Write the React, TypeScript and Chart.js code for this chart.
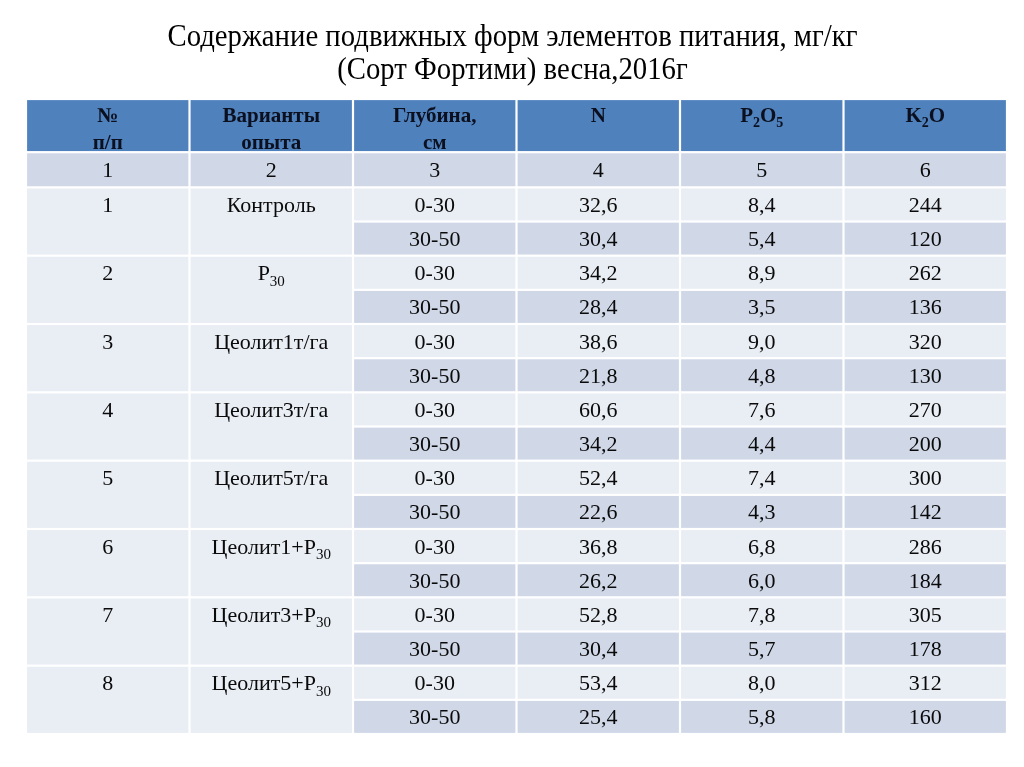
import React, { useEffect, useRef } from "react";
import { Chart, registerables } from "chart.js";

Chart.register(...registerables);

// ---- data ----
const titleLines = [
  "Содержание подвижных форм элементов питания, мг/кг",
  "(Сорт Фортими) весна,2016г",
];
const columnHeaders = [
  ["№", "п/п"],
  ["Варианты", "опыта"],
  ["Глубина,", "см"],
  ["N"],
  ["P_2O_5"],
  ["K_2O"],
];
const columnNumbers = ["1", "2", "3", "4", "5", "6"];
const variantNumbers = ["1", "2", "3", "4", "5", "6", "7", "8"];
const variants = [
  "Контроль",
  "Р_30",
  "Цеолит1т/га",
  "Цеолит3т/га",
  "Цеолит5т/га",
  "Цеолит1+Р_30",
  "Цеолит3+Р_30",
  "Цеолит5+Р_30",
];
const depths = ["0-30", "30-50"];
const nValues = [32.6, 30.4, 34.2, 28.4, 38.6, 21.8, 60.6, 34.2, 52.4, 22.6, 36.8, 26.2, 52.8, 30.4, 53.4, 25.4];
const p2o5Values = [8.4, 5.4, 8.9, 3.5, 9.0, 4.8, 7.6, 4.4, 7.4, 4.3, 6.8, 6.0, 7.8, 5.7, 8.0, 5.8];
const k2oValues = [244, 120, 262, 136, 320, 130, 270, 200, 300, 142, 286, 184, 305, 178, 312, 160];

// ---- layout constants (scale units) ----
const HEADER_H = 1.556;
const NUMROW_H = 1.03;
const DATA_START = HEADER_H + NUMROW_H;
const TOTAL_ROWS = DATA_START + nValues.length;

const COLORS = {
  header: "#4F81BD",
  dark: "#D0D8E8",
  light: "#E9EDF4",
  text: "#0a0a0a",
  headerText: "#0b0f1e",
};

const BODY_SIZE = 22;
const HEAD_SIZE = 21;

const fmt1 = (v: number) => v.toFixed(1).replace(".", ",");

function drawRich(
  ctx: CanvasRenderingContext2D,
  text: string,
  cx: number,
  baseline: number,
  size: number,
  bold: boolean,
  color: string
) {
  const segs: { t: string; sub: boolean }[] = [];
  const re = /_(\d+)/g;
  let last = 0;
  let m: RegExpExecArray | null;
  while ((m = re.exec(text))) {
    if (m.index > last) segs.push({ t: text.slice(last, m.index), sub: false });
    segs.push({ t: m[1], sub: true });
    last = m.index + m[0].length;
  }
  if (last < text.length) segs.push({ t: text.slice(last), sub: false });
  const fontFor = (sub: boolean) =>
    `${bold ? "bold " : ""}${sub ? Math.round(size * 0.66) : size}px "Liberation Serif", "Times New Roman", serif`;
  let total = 0;
  const widths = segs.map((s) => {
    ctx.font = fontFor(s.sub);
    const ww = ctx.measureText(s.t).width;
    total += ww;
    return ww;
  });
  let x = cx - total / 2;
  ctx.fillStyle = color;
  ctx.textAlign = "left";
  ctx.textBaseline = "alphabetic";
  segs.forEach((s, i) => {
    ctx.font = fontFor(s.sub);
    ctx.fillText(s.t, x, baseline + (s.sub ? size * 0.25 : 0));
    x += widths[i];
  });
}

const tablePlugin = {
  id: "tableCells",
  afterDraw(chart: any) {
    const ctx: CanvasRenderingContext2D = chart.ctx;
    const xs = chart.scales.x;
    const ys = chart.scales.y;
    const X = (v: number) => xs.getPixelForValue(v);
    const Y = (v: number) => ys.getPixelForValue(v);
    const gap = 1.1;
    ctx.save();
    const cell = (c0: number, c1: number, r0: number, r1: number, color: string) => {
      const x0 = X(c0), x1 = X(c1), y0 = Y(r0), y1 = Y(r1);
      ctx.fillStyle = color;
      ctx.fillRect(
        Math.min(x0, x1) + gap,
        Math.min(y0, y1) + gap,
        Math.abs(x1 - x0) - 2 * gap,
        Math.abs(y1 - y0) - 2 * gap
      );
    };
    const cx = (c: number) => (X(c) + X(c + 1)) / 2;

    // title
    ctx.fillStyle = "#000";
    ctx.textAlign = "center";
    ctx.textBaseline = "alphabetic";
    const tSize = 32;
    ctx.font = `${tSize}px "Liberation Serif", "Times New Roman", serif`;
    const w1 = ctx.measureText(titleLines[0]).width;
    const sx = 690 / w1;
    const tBase = [46, 79];
    titleLines.forEach((line, i) => {
      ctx.save();
      ctx.translate(chart.width / 2 + 0.5, tBase[i]);
      ctx.scale(sx, 1);
      ctx.fillText(line, 0, 0);
      ctx.restore();
    });

    // header
    columnHeaders.forEach((lines, c) => {
      cell(c, c + 1, 0, HEADER_H, COLORS.header);
      const top = Y(0);
      lines.forEach((ln, li) => {
        drawRich(ctx, ln, cx(c), top + 23 + li * 27, HEAD_SIZE, true, COLORS.headerText);
      });
    });

    // column numbers row
    columnNumbers.forEach((t, c) => {
      cell(c, c + 1, HEADER_H, DATA_START, COLORS.dark);
      const mid = (Y(HEADER_H) + Y(DATA_START)) / 2;
      drawRich(ctx, t, cx(c), mid + 7.5, BODY_SIZE, false, COLORS.text);
    });

    // data
    variants.forEach((v, g) => {
      const r0 = DATA_START + g * 2;
      cell(0, 1, r0, r0 + 2, COLORS.light);
      cell(1, 2, r0, r0 + 2, COLORS.light);
      const mid0 = (Y(r0) + Y(r0 + 1)) / 2;
      drawRich(ctx, variantNumbers[g], cx(0), mid0 + 7.5, BODY_SIZE, false, COLORS.text);
      drawRich(ctx, v, cx(1), mid0 + 7.5, BODY_SIZE, false, COLORS.text);
      depths.forEach((d, k) => {
        const r = r0 + k;
        const idx = g * 2 + k;
        const color = k === 0 ? COLORS.light : COLORS.dark;
        const vals = [d, fmt1(nValues[idx]), fmt1(p2o5Values[idx]), String(k2oValues[idx])];
        const mid = (Y(r) + Y(r + 1)) / 2;
        vals.forEach((t, j) => {
          const c = 2 + j;
          cell(c, c + 1, r, r + 1, color);
          drawRich(ctx, t, cx(c), mid + 7.5, BODY_SIZE, false, COLORS.text);
        });
      });
    });
    ctx.restore();
  },
};

export default function App() {
  const ref = useRef<HTMLCanvasElement | null>(null);
  useEffect(() => {
    document.body.style.margin = "0";
    const canvas = ref.current;
    if (!canvas) return;
    const chart = new Chart(canvas, {
      type: "scatter",
      data: { datasets: [] },
      options: {
        animation: false,
        responsive: false,
        maintainAspectRatio: false,
        layout: { padding: { left: 26, right: 17, top: 99, bottom: 33 } },
        plugins: { legend: { display: false }, tooltip: { enabled: false }, title: { display: false } },
        scales: {
          x: { type: "linear", min: 0, max: columnHeaders.length, display: false },
          y: { type: "linear", min: 0, max: TOTAL_ROWS, reverse: true, display: false },
        },
      },
      plugins: [tablePlugin],
    });
    return () => chart.destroy();
  }, []);
  return (
    <div style={{ width: 1024, height: 767, background: "#fff" }}>
      <canvas ref={ref} width={1024} height={767} style={{ display: "block" }} />
    </div>
  );
}
